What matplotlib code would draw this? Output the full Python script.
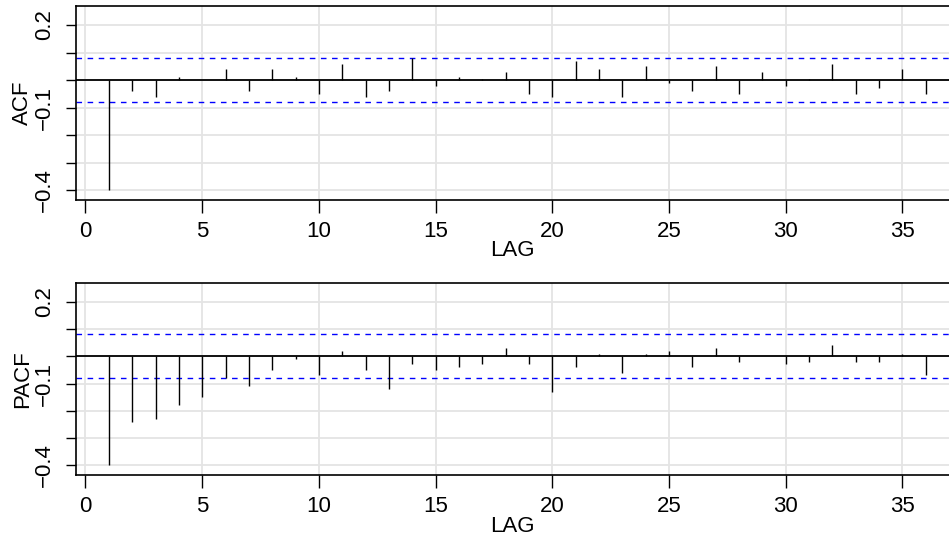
import matplotlib
matplotlib.use("Agg")
import matplotlib.pyplot as plt
import numpy as np

plt.rcParams['font.family'] = ['Liberation Sans', 'DejaVu Sans']

lags = list(range(1, 37))
acf = [-0.40, -0.04, -0.06, 0.01, 0.00, 0.04, -0.04, 0.04, 0.01, -0.05,
       0.06, -0.06, -0.04, 0.08, -0.02, 0.01, 0.003, 0.03, -0.05, -0.06,
       0.07, 0.04, -0.06, 0.05, -0.01, -0.04, 0.05, -0.05, 0.03, -0.02,
       0.002, 0.06, -0.05, -0.03, 0.04, -0.05]
pacf = [-0.40, -0.24, -0.23, -0.18, -0.15, -0.08, -0.11, -0.05, -0.01, -0.07,
        0.02, -0.05, -0.12, -0.03, -0.05, -0.04, -0.03, 0.03, -0.03, -0.13,
        -0.04, 0.01, -0.06, 0.01, 0.02, -0.04, 0.03, -0.02, 0.00, -0.03,
        -0.02, 0.04, -0.02, -0.02, 0.01, -0.07]
bound = 0.081
yticks = [0.2, 0.1, 0.0, -0.1, -0.2, -0.3, -0.4]
ytick_labels = ['0.2', '', '', '\u22120.1', '', '', '\u22120.4']
xticks = [0, 5, 10, 15, 20, 25, 30, 35]

fig = plt.figure(figsize=(9.49, 5.45), dpi=100)
ax1 = fig.add_axes([0.080, 0.633, 0.920, 0.356])
ax2 = fig.add_axes([0.080, 0.128, 0.920, 0.353])

for ax, vals, name in [(ax1, acf, 'ACF'), (ax2, pacf, 'PACF')]:
    ax.set_xlim(-0.41, 37.0)
    ax.set_ylim(-0.436, 0.269)
    for yv in yticks:
        ax.axhline(yv, color='#e4e4e4', lw=1.3, zorder=0)
    for xv in xticks:
        ax.axvline(xv, color='#e4e4e4', lw=1.3, zorder=0)
    ax.vlines(lags, 0, vals, color='black', lw=1.0, zorder=3)
    ax.axhline(0, color='black', lw=1.3, zorder=3)
    ax.axhline(bound, color='blue', lw=1.0, ls=(0, (4, 4)), zorder=2)
    ax.axhline(-bound, color='blue', lw=1.0, ls=(0, (4, 4)), zorder=2)
    ax.set_yticks(yticks)
    ax.set_yticklabels(ytick_labels, rotation=90, va='center', fontsize=16)
    ax.set_xticks(xticks)
    ax.set_xticklabels([str(x) for x in xticks], fontsize=16)
    ax.tick_params(axis='y', length=7, width=1, pad=8)
    ax.tick_params(axis='x', length=9, width=1, pad=6)
    ax.spines['right'].set_visible(False)
    for s in ['top', 'left', 'bottom']:
        ax.spines[s].set_linewidth(1.2)
    ax.set_ylabel(name, fontsize=16, labelpad=1)
    ax.set_xlabel('LAG', fontsize=16, labelpad=-1)

fig.savefig('out.png', dpi=100)
